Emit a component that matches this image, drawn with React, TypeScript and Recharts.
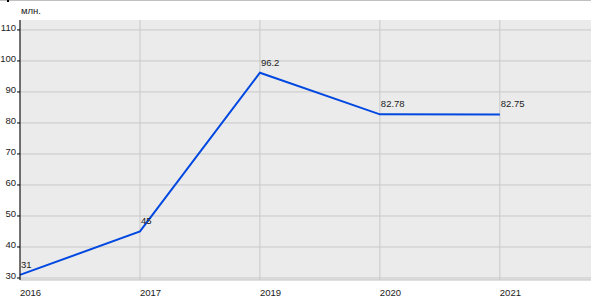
import React from "react";
import { LineChart, Line, XAxis, YAxis, CartesianGrid, LabelList } from "recharts";

const years = ["2016", "2017", "2019", "2020", "2021"];
const values = [31, 45, 96.2, 82.78, 82.75];
const yTicks = [30, 40, 50, 60, 70, 80, 90, 100, 110];
const xTicks = [0, 1, 2, 3, 4];

const data = values.map((v, i) => ({ x: i, value: v, year: years[i] }));

const FONT = "'Liberation Sans', Arial, sans-serif";

const XTick = (props: any) => {
  const { x, y, payload } = props;
  return (
    <text x={x} y={y + 8} textAnchor="start" fontSize={9.5} fontFamily={FONT} fill="#222">
      {years[payload.value]}
    </text>
  );
};

const YTick = (props: any) => {
  const { x, y, payload } = props;
  return (
    <text x={x + 1} y={y + 1} textAnchor="end" fontSize={9.5} fontFamily={FONT} fill="#222">
      {payload.value}
    </text>
  );
};

const PointLabel = (props: any) => {
  const { x, y, value } = props;
  return (
    <text x={x + 1} y={y - 7} textAnchor="start" fontSize={9.5} fontFamily={FONT} fill="#222">
      {value}
    </text>
  );
};

export default function App() {
  return (
    <div style={{ position: "absolute", left: 0, top: 0, width: 600, height: 300, background: "#fff" }}>
      <div style={{ position: "absolute", left: 0, top: 0, width: 591, height: 1, background: "#c0c0c0" }} />
      <div style={{ position: "absolute", left: 7, top: 0, width: 2, height: 2, background: "#000" }} />
      <div
        style={{
          position: "absolute",
          left: 21,
          top: 5,
          fontSize: 9.5,
          fontFamily: FONT,
          color: "#222",
          lineHeight: "12px",
        }}
      >
        млн.
      </div>
      <LineChart width={600} height={300} data={data} margin={{ top: 20, right: 9, bottom: 0, left: 0 }}>
        <CartesianGrid stroke="#c8c8c8" fill="#ebebeb" horizontalValues={yTicks} verticalValues={xTicks} />
        <XAxis
          dataKey="x"
          type="number"
          domain={[0, 4.76]}
          ticks={xTicks}
          height={20}
          tick={<XTick />}
          tickLine={false}
          axisLine={{ stroke: "#c0c0c0" }}
          interval={0}
        />
        <YAxis
          type="number"
          domain={[29.35, 113.2]}
          ticks={yTicks}
          width={20}
          tick={<YTick />}
          tickSize={3}
          tickLine={{ stroke: "#000" }}
          axisLine={{ stroke: "#000" }}
          interval={0}
          allowDataOverflow
        />
        <Line
          type="linear"
          dataKey="value"
          stroke="#0048e0"
          strokeWidth={2}
          dot={false}
          isAnimationActive={false}
        >
          <LabelList dataKey="value" content={<PointLabel />} />
        </Line>
      </LineChart>
    </div>
  );
}
